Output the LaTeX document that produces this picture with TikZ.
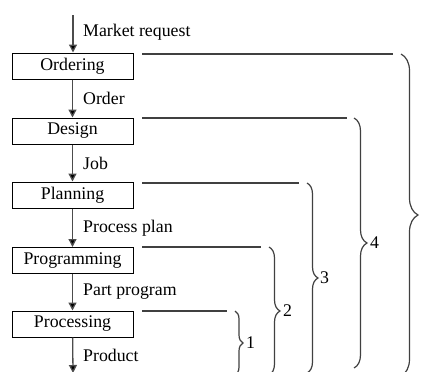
\documentclass[tikz,border=0pt]{standalone}
\usepackage{fontspec}
\setmainfont{Liberation Serif}
\usetikzlibrary{arrows.meta,decorations.pathreplacing}
\begin{document}
\begin{tikzpicture}[x=1pt,y=-1pt,
  every node/.style={font=\fontsize{17.8}{20}\selectfont},
  stage/.style={draw=black,line width=1pt,minimum width=121pt,minimum height=26pt,inner sep=0pt},
  flow/.style={line width=1.3pt,draw=black!70,-{Triangle[length=8pt,width=8pt,fill=black]}},
  flowlabel/.style={anchor=west,inner sep=0pt},
  scopeline/.style={line width=1.3pt,draw=black!75},
  scopebrace/.style={line width=1.2pt,draw=black!75,decorate,
    decoration={brace,amplitude=#1}},
  bracelabel/.style={anchor=west,inner sep=0pt}]
\useasboundingbox (0,0) rectangle (423,372);

% process chain
\coordinate (in) at (73,15);
\node[stage] (ord) at (72.5,66) {Ordering};
\node[stage] (des) at (72.5,131) {Design};
\node[stage] (pla) at (72.5,195) {Planning};
\node[stage] (pro) at (72.5,260.5) {Programming};
\node[stage] (prc) at (72.5,324) {Processing};
\coordinate (out) at (73,373);

\draw[flow] (in) -- (in |- ord.north);
\draw[flow] (ord) -- (des);
\draw[flow] (des) -- (pla);
\draw[flow] (pla) -- (pro);
\draw[flow] (pro) -- (prc);
\draw[flow] (prc) -- (out);

\node[flowlabel] (l0) at (83,32) {Market request};
\node[flowlabel] (l1) at (83,98) {Order};
\node[flowlabel] (l2) at (83,163) {Job};
\node[flowlabel] (l3) at (83,228) {Process plan};
\node[flowlabel] (l4) at (83,292) {Part program};
\node[flowlabel] (l5) at (83,355) {Product};

% scope lines and braces
\coordinate (s5a) at (142,54);  \coordinate (s5b) at (393,54);
\coordinate (s4a) at (142,118); \coordinate (s4b) at (347,118);
\coordinate (s3a) at (142,183); \coordinate (s3b) at (299,183);
\coordinate (s2a) at (142,247); \coordinate (s2b) at (261,247);
\coordinate (s1a) at (142,311); \coordinate (s1b) at (227,311);

\draw[scopeline] (s5a) -- (s5b);
\draw[scopeline] (s4a) -- (s4b);
\draw[scopeline] (s3a) -- (s3b);
\draw[scopeline] (s2a) -- (s2b);
\draw[scopeline] (s1a) -- (s1b);

\coordinate (b5t) at (401,54);  \coordinate (b5b) at (401,376);
\coordinate (b4t) at (354,118); \coordinate (b4b) at (354,368);
\coordinate (b3t) at (307,183); \coordinate (b3b) at (307,373);
\coordinate (b2t) at (269,247); \coordinate (b2b) at (269,375);
\coordinate (b1t) at (235,311); \coordinate (b1b) at (235,375);

\draw[scopebrace=17pt] (b5t) -- (b5b);
\draw[scopebrace=13pt] (b4t) -- (b4b);
\draw[scopebrace=11pt] (b3t) -- (b3b);
\draw[scopebrace=11pt] (b2t) -- (b2b);
\draw[scopebrace=8pt] (b1t) -- (b1b);

\node[bracelabel] (n4) at (370,243) {4};
\node[bracelabel] (n3) at (320,278) {3};
\node[bracelabel] (n2) at (283,311) {2};
\node[bracelabel] (n1) at (246,343) {1};
\end{tikzpicture}
\end{document}
